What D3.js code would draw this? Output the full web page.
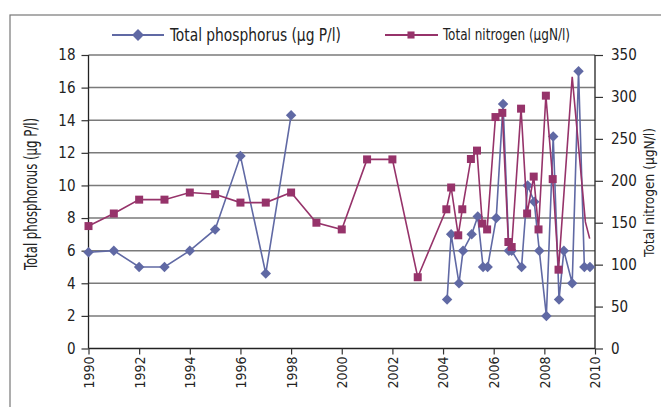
<!DOCTYPE html>
<html>
<head>
<meta charset="utf-8">
<script src="https://cdn.jsdelivr.net/npm/d3@7"></script>
<style>
  body { margin: 0; background: #fff; }
  svg { display: block; }
  text { font-family: "Liberation Sans Narrow", "DejaVu Sans Condensed", "Roboto Condensed", sans-serif; fill: #222; }
</style>
</head>
<body>
<svg width="661" height="407"></svg>
<script>
// phosphorus (left axis, µg P/l); null = no sample, line breaks
const pYears = [1990, 1991, 1992, 1993, 1994, 1995, 1996, 1997, 1998, 1999,
  2004.16, 2004.32, 2004.63, 2004.79, 2005.13, 2005.37, 2005.58, 2005.76,
  2006.10, 2006.37, 2006.60, 2006.71, 2007.10, 2007.34, 2007.60, 2007.80,
  2008.08, 2008.35, 2008.58, 2008.77, 2009.10, 2009.35, 2009.58, 2009.80];
const pValues = [5.9, 6.0, 5.0, 5.0, 6.0, 7.3, 11.8, 4.6, 14.3, null,
  3.0, 7.0, 4.0, 6.0, 7.0, 8.1, 5.0, 5.0,
  8.0, 15.0, 6.0, 6.0, 5.0, 10.0, 9.0, 6.0,
  2.0, 13.0, 3.0, 6.0, 4.0, 17.0, 5.0, 5.0];

// nitrogen (right axis, µgN/l)
const nYears = [1990, 1991, 1992, 1993, 1994, 1995, 1996, 1997, 1998, 1999, 2000, 2001, 2002, 2003,
  2004.13, 2004.32, 2004.60, 2004.76, 2005.10, 2005.34, 2005.55, 2005.74,
  2006.07, 2006.34, 2006.58, 2006.71, 2007.08, 2007.32, 2007.58, 2007.77,
  2008.06, 2008.33, 2008.56, 2009.10, 2009.62, 2009.79];
const nValues = [146, 161, 177.5, 177.5, 186, 184, 174, 174, 186, 150, 142, 225.5, 225.5, 85,
  166, 192, 135, 166, 226, 236, 149, 142,
  276, 281, 127, 121, 286, 161, 205, 142,
  301.5, 202, 94, 324, 151, 131];
// last three samples are drawn without a marker in the original
const nMarker = nValues.map((v, i) => i < nValues.length - 3);

const xTicks = d3.range(1990, 2011, 2);
const leftTicks = d3.range(0, 19, 2);
const rightTicks = d3.range(0, 351, 50);

const pColor = "#6069a4", nColor = "#96336a";

const svg = d3.select("svg");
const x0 = 88.5, x1 = 595, y0 = 348.5, y1 = 55;

const x = d3.scaleLinear().domain([1990, 2010]).range([x0, x1]);
const yL = d3.scaleLinear().domain([0, 18]).range([y0, y1]);
const yR = d3.scaleLinear().domain([0, 350]).range([y0, y1]);

// frame
svg.append("rect").attr("x", 10).attr("y", 15).attr("width", 700).attr("height", 450)
  .attr("fill", "none").attr("stroke", "#777").attr("stroke-width", 1.2);

// gridlines
svg.append("g").selectAll("line").data(leftTicks.slice(1)).join("line")
  .attr("x1", x0).attr("x2", x1)
  .attr("y1", d => yL(d)).attr("y2", d => yL(d))
  .attr("stroke", "#7a7a7a").attr("stroke-width", 1.5);

// axes
const axL = svg.append("g").attr("transform", `translate(${x0},0)`)
  .call(d3.axisLeft(yL).tickValues(leftTicks).tickSize(7).tickPadding(6));
const axR = svg.append("g").attr("transform", `translate(${x1},0)`)
  .call(d3.axisRight(yR).tickValues(rightTicks).tickSize(8).tickPadding(8));
const axB = svg.append("g").attr("transform", `translate(0,${y0})`)
  .call(d3.axisBottom(x).tickValues(xTicks).tickFormat(d3.format("d")).tickSize(6));

[axL, axR, axB].forEach(a => {
  a.select(".domain").attr("stroke", "#222").attr("stroke-width", 1.3);
  a.selectAll(".tick line").attr("stroke", "#333").attr("stroke-width", 1.2);
  a.selectAll("text").style("font-size", "15px").attr("fill", "#222");
});
axL.select(".domain").attr("d", `M0,${y0}V${y1}`);
axR.select(".domain").attr("d", `M0,${y0}V${y1}`);
axB.select(".domain").attr("d", `M${x0},0H${x1}`);
axB.selectAll("text")
  .style("font-size", "14px")
  .attr("transform", "rotate(-90)")
  .attr("text-anchor", "end")
  .attr("x", -8).attr("y", 0).attr("dy", "0.35em");

// axis titles
svg.append("text").attr("transform", "translate(37,194) rotate(-90)")
  .attr("text-anchor", "middle").style("font-size", "17.5px")
  .attr("textLength", 152).attr("lengthAdjust", "spacingAndGlyphs")
  .text("Total phosphorous (µg P/l)");
svg.append("text").attr("transform", "translate(654,192.5) rotate(-90)")
  .attr("text-anchor", "middle").style("font-size", "14px")
  .attr("textLength", 129).attr("lengthAdjust", "spacingAndGlyphs")
  .text("Total nitrogen (µgN/l)");

// series
const pData = pYears.map((t, i) => ({ t, v: pValues[i] }));
const nData = nYears.map((t, i) => ({ t, v: nValues[i], m: nMarker[i] }));

const diamond = d3.symbol().type(d3.symbolDiamond2).size(70);
const square = d3.symbol().type(d3.symbolSquare).size(64);

svg.append("path").datum(pData)
  .attr("fill", "none").attr("stroke", pColor).attr("stroke-width", 1.6)
  .attr("d", d3.line().defined(d => d.v != null).x(d => x(d.t)).y(d => yL(d.v)));
svg.append("g").selectAll("path").data(pData.filter(d => d.v != null)).join("path")
  .attr("transform", d => `translate(${x(d.t)},${yL(d.v)})`)
  .attr("d", diamond).attr("fill", pColor);

svg.append("path").datum(nData)
  .attr("fill", "none").attr("stroke", nColor).attr("stroke-width", 1.6)
  .attr("d", d3.line().x(d => x(d.t)).y(d => yR(d.v)));
svg.append("g").selectAll("path").data(nData.filter(d => d.m)).join("path")
  .attr("transform", d => `translate(${x(d.t)},${yR(d.v)})`)
  .attr("d", square).attr("fill", nColor);

// legend
const lg = svg.append("g");
lg.append("line").attr("x1", 112).attr("x2", 164).attr("y1", 35).attr("y2", 35)
  .attr("stroke", pColor).attr("stroke-width", 1.8);
lg.append("path").attr("transform", "translate(138,35)").attr("d", d3.symbol().type(d3.symbolDiamond2).size(90)).attr("fill", pColor);
lg.append("text").attr("x", 170).attr("y", 35).attr("dy", "0.35em").style("font-size", "17px")
  .attr("textLength", 171).attr("lengthAdjust", "spacingAndGlyphs")
  .text("Total phosphorus (µg P/l)");
lg.append("line").attr("x1", 385).attr("x2", 438).attr("y1", 35).attr("y2", 35)
  .attr("stroke", nColor).attr("stroke-width", 1.8);
lg.append("path").attr("transform", "translate(411,35)").attr("d", d3.symbol().type(d3.symbolSquare).size(50)).attr("fill", nColor);
lg.append("text").attr("x", 443).attr("y", 35).attr("dy", "0.35em").style("font-size", "15.5px")
  .attr("textLength", 127).attr("lengthAdjust", "spacingAndGlyphs")
  .text("Total nitrogen (µgN/l)");
</script>
</body>
</html>
